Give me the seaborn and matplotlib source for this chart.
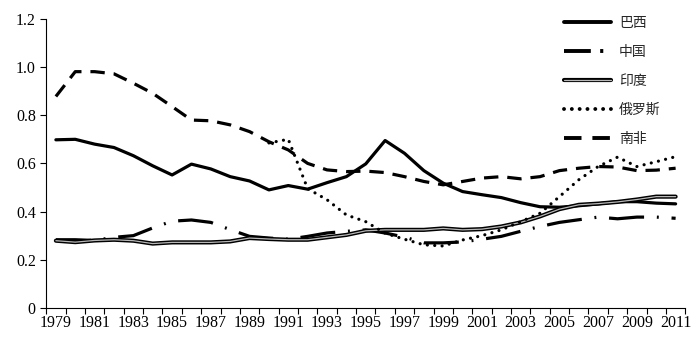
import matplotlib
matplotlib.use("Agg")
import matplotlib.pyplot as plt
import matplotlib.patheffects as pe
import seaborn as sns

# %%
years = list(range(1979, 2012))
years_russia = list(range(1990, 2012))

brazil = [0.698, 0.700, 0.680, 0.666, 0.632, 0.590, 0.552, 0.597, 0.577, 0.545, 0.527,
          0.490, 0.508, 0.493, 0.520, 0.545, 0.598, 0.695, 0.642, 0.570, 0.518, 0.483,
          0.470, 0.458, 0.437, 0.420, 0.418, 0.424, 0.432, 0.441, 0.441, 0.435, 0.432]
china = [0.283, 0.283, 0.280, 0.293, 0.300, 0.332, 0.360, 0.365, 0.355, 0.325, 0.297,
         0.290, 0.285, 0.297, 0.311, 0.318, 0.324, 0.311, 0.294, 0.270, 0.270, 0.274,
         0.285, 0.297, 0.318, 0.338, 0.355, 0.366, 0.377, 0.370, 0.377, 0.377, 0.372]
india = [0.279, 0.273, 0.280, 0.283, 0.279, 0.267, 0.272, 0.272, 0.272, 0.276, 0.290,
         0.286, 0.283, 0.283, 0.293, 0.303, 0.320, 0.324, 0.324, 0.324, 0.330, 0.324,
         0.327, 0.338, 0.355, 0.380, 0.410, 0.428, 0.433, 0.440, 0.450, 0.462, 0.462]
russia = [0.685, 0.700, 0.495, 0.449, 0.386, 0.358, 0.310, 0.285, 0.262, 0.257, 0.282,
          0.300, 0.324, 0.358, 0.393, 0.462, 0.532, 0.587, 0.626, 0.587, 0.607, 0.628]
south_africa = [0.878, 0.981, 0.981, 0.972, 0.933, 0.891, 0.836, 0.780, 0.777, 0.760, 0.732,
                0.690, 0.656, 0.600, 0.573, 0.566, 0.568, 0.562, 0.545, 0.525, 0.511, 0.525,
                0.539, 0.545, 0.536, 0.545, 0.570, 0.580, 0.587, 0.585, 0.570, 0.572, 0.580]

# %%
sns.set_style("ticks")
plt.rcParams["font.family"] = ["Liberation Serif", "Noto Sans CJK SC", "DejaVu Sans"]

fig, ax = plt.subplots(figsize=(7, 3.44), dpi=100)
fig.subplots_adjust(left=0.066, right=0.979, bottom=0.105, top=0.945)

lw = 2.3
sns.lineplot(x=years, y=brazil, ax=ax, color="black", lw=lw, label="巴西")
sns.lineplot(x=years, y=china, ax=ax, color="black", lw=lw, label="中国",
             linestyle=(0, (11, 4, 0.6, 4)))
sns.lineplot(x=years, y=india, ax=ax, color="#b8b8b8", lw=0.9, label="印度",
             path_effects=[pe.Stroke(linewidth=3.0, foreground="black"), pe.Normal()])
sns.lineplot(x=years_russia, y=russia, ax=ax, color="black", lw=lw, label="俄罗斯",
             linestyle=(0, (0.01, 2.3)), dash_capstyle="round")
sns.lineplot(x=years, y=south_africa, ax=ax, color="black", lw=lw, label="南非",
             linestyle=(0, (4.5, 2.8)))

ax.set_xlim(1978.5, 2011.5)
ax.set_ylim(0, 1.2)
ax.set_yticks([0, 0.2, 0.4, 0.6, 0.8, 1.0, 1.2],
              ["0", "0.2", "0.4", "0.6", "0.8", "1.0", "1.2"])
ax.set_xticks([y - 0.5 for y in years] + [2011.5], [""] * 34)
ax.set_xticks(years[::2], [str(y) for y in years[::2]], minor=True)
ax.tick_params(axis="x", which="major", length=4, width=0.8, direction="out", color="black")
ax.tick_params(axis="x", which="minor", length=0, labelsize=11.5, pad=5)
ax.tick_params(axis="y", length=4, width=0.8, direction="out", labelsize=11.5, color="black")
for lab in ax.get_xticklabels(minor=True) + ax.get_yticklabels():
    lab.set_color("black")
sns.despine(ax=ax)
for s in ["left", "bottom"]:
    ax.spines[s].set_color("black")
    ax.spines[s].set_linewidth(0.8)
ax.set_xlabel("")
ax.set_ylabel("")

leg = ax.legend(loc="upper left", bbox_to_anchor=(0.79, 1.055), frameon=False,
                handlelength=3.4, labelspacing=1.08, handletextpad=0.6,
                prop={"family": ["Noto Sans CJK SC"], "size": 10})
# thicker legend keys, with the dash patterns shortened to fit the key
leg_styles = {"巴西": "-", "中国": (0, (6.9, 2.4, 0.8, 6)),
              "俄罗斯": (0, (0.01, 2.0)), "南非": (0, (4.5, 2.8))}
for h, t in zip(leg.get_lines(), leg.get_texts()):
    name = t.get_text()
    if name in leg_styles:
        h.set_linewidth(2.8)
        h.set_linestyle(leg_styles[name])

fig.savefig("out.png", dpi=100)
